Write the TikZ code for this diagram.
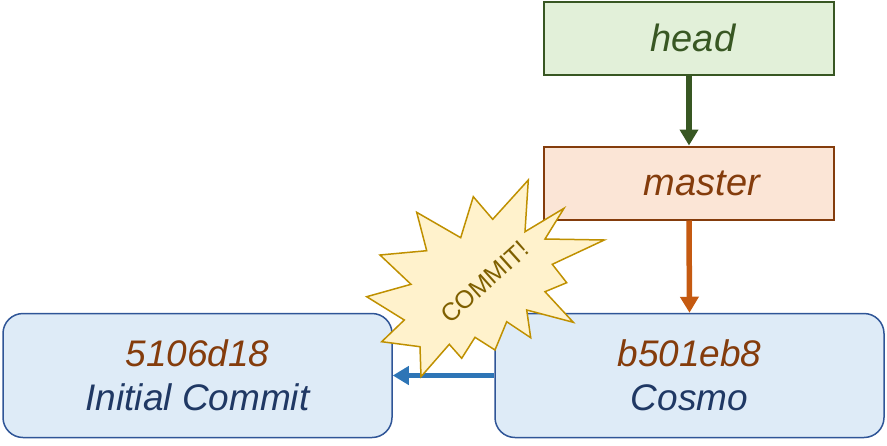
\documentclass[tikz,border=0pt]{standalone}
\usepackage{fontspec}
\setmainfont{Liberation Sans}
\usetikzlibrary{arrows.meta}
\definecolor{gfill}{HTML}{E2F0D9}
\definecolor{gline}{HTML}{385723}
\definecolor{ofill}{HTML}{FBE5D6}
\definecolor{oline}{HTML}{843C0C}
\definecolor{oarrow}{HTML}{C55A11}
\definecolor{bfill}{HTML}{DEEBF7}
\definecolor{bline}{HTML}{2F5597}
\definecolor{barrow}{HTML}{2E75B6}
\definecolor{navy}{HTML}{1F3864}
\definecolor{yfill}{HTML}{FFF2CC}
\definecolor{yline}{HTML}{BF9000}
\definecolor{ytext}{HTML}{7F6000}
\tikzset{
  reftag/.style={draw, line width=2pt, inner sep=0pt, minimum width=290pt, minimum height=73pt},
  reftext/.style={inner sep=0pt, font=\fontsize{38}{45}\selectfont\itshape},
  commitbox/.style={draw=bline, fill=bfill, line width=1.5pt, rounded corners=20pt, inner sep=0pt,
    minimum width=389pt, minimum height=124pt, align=center,
    font=\fontsize{37}{44}\selectfont\itshape},
  link/.style={line width=5.5pt, -{Triangle[length=16pt,width=18pt]}},
}
\begin{document}
\begin{tikzpicture}[x=1pt,y=-1pt]
\useasboundingbox (0,0) rectangle (887,445);
\node[reftag, draw=gline, fill=gfill] (head) at (689,38) {};
\node[reftext, text=gline] (headtext) at (693,38) {head};
\node[reftag, draw=oline, fill=ofill] (master) at (689,183) {};
\node[reftext, text=oline] (mastertext) at (702,183) {master};
\node[commitbox] (c1) at (197.5,375.5) {{\color{oline}5106d18}\\{\color{navy}Initial Commit}};
\node[commitbox] (c2) at (689.5,375.5) {{\color{oline}b501eb8}\\{\color{navy}Cosmo}};
\draw[link, gline] (head.south) -- (master.north);
\draw[link, oarrow] (master.south) -- (c2.north);
\draw[link, barrow] (c2.west) -- (c1.east);
\draw[draw=yline, fill=yfill, line width=1.5pt, line join=miter]
  (528.3,180) -- (525,231.7) -- (564,208.3) -- (545,239) -- (604.3,240) -- (552.3,264.3)
  -- (566.7,282.7) -- (545,291.7) -- (573.3,322.3) -- (526.7,310) -- (530.7,337.7)
  -- (506.7,321.7) -- (495,350) -- (475,337.3) -- (461.7,358.3) -- (449.3,344.3)
  -- (421,376.7) -- (420,346.7) -- (381.7,341.7) -- (404.3,320) -- (366.7,296.7)
  -- (411,284.3) -- (380,255) -- (426.7,250.7) -- (416.7,212.3) -- (460.7,237.7)
  -- (473.3,196.7) -- (492.7,219.3) -- cycle;
\node[text=ytext, rotate=42, font=\fontsize{25}{30}\selectfont, inner sep=0pt] (boom) at (485,282) {COMMIT!};
\end{tikzpicture}
\end{document}
